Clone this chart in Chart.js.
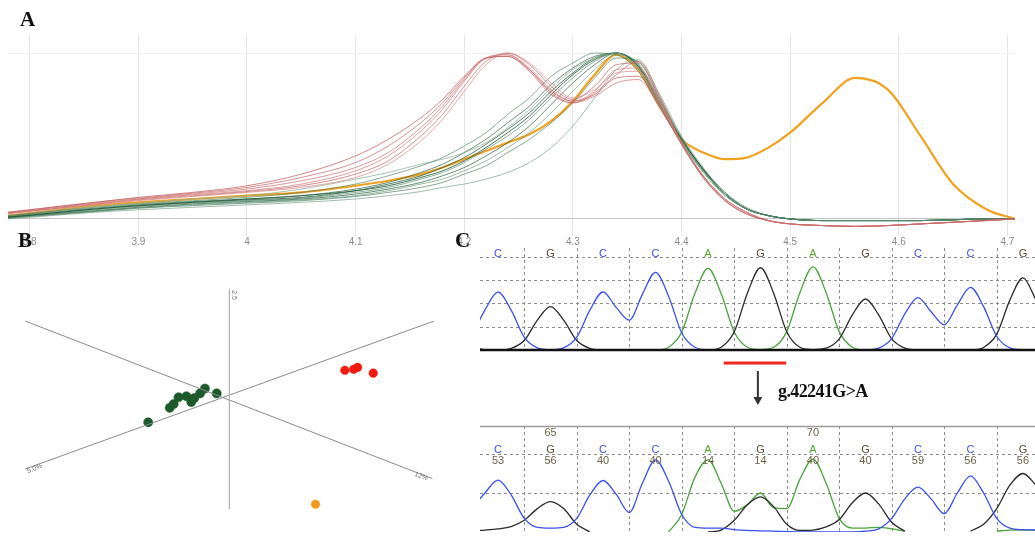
<!DOCTYPE html>
<html><head><meta charset="utf-8">
<script src="https://cdn.jsdelivr.net/npm/chart.js@4.4.1/dist/chart.umd.min.js"></script>
<style>
html,body{margin:0;padding:0;background:#fff;}
#wrap{position:relative;width:1035px;height:536px;overflow:hidden;background:#fff;}
canvas{position:absolute;}
.lbl{position:absolute;font-family:"Liberation Serif","Times New Roman",serif;font-weight:bold;color:#111;line-height:1;white-space:nowrap;}
</style></head><body>
<div id="wrap">
<canvas id="cA" width="1035" height="250" style="left:0;top:0"></canvas>
<canvas id="cB" width="470" height="281" style="left:0;top:255px"></canvas>
<canvas id="cC1" width="565" height="180" style="left:470px;top:240px"></canvas>
<canvas id="cC2" width="565" height="116" style="left:470px;top:420px"></canvas>
<div class="lbl" style="left:20px;top:9px;font-size:21px">A</div>
<div class="lbl" style="left:18px;top:230px;font-size:21px">B</div>
<div class="lbl" style="left:455px;top:230px;font-size:21px">C</div>
<div class="lbl" style="left:778px;top:382px;font-size:18px;letter-spacing:-0.6px">g.42241G&gt;A</div>
</div>
<script>
// ---------------- Panel A: normalized melting curves ----------------
const meltX = [3.78,3.82,3.86,3.9,3.95,4.0,4.05,4.1,4.13,4.16,4.18,4.2,4.22,4.24,4.26,4.28,4.3,4.32,4.34,4.36,4.38,4.4,4.42,4.44,4.46,4.48,4.5,4.53,4.56,4.59,4.62,4.65,4.68,4.707];
const xTickVals = [3.8,3.9,4.0,4.1,4.2,4.3,4.4,4.5,4.6,4.7];
const xTickLabels = ['3.8','3.9','4','4.1','4.2','4.3','4.4','4.5','4.6','4.7'];

const red1 = [0.04,0.07,0.10,0.13,0.16,0.20,0.27,0.38,0.48,0.61,0.72,0.86,0.97,0.98,0.90,0.77,0.71,0.75,0.85,0.86,0.68,0.45,0.25,0.11,0.03,-0.01,-0.03,-0.04,-0.045,-0.04,-0.03,-0.02,-0.01,0];
const red2 = [0.035,0.065,0.09,0.12,0.145,0.17,0.21,0.29,0.38,0.53,0.66,0.83,0.97,0.99,0.91,0.78,0.71,0.77,0.90,0.91,0.71,0.46,0.26,0.12,0.04,-0.01,-0.03,-0.04,-0.045,-0.04,-0.03,-0.02,-0.01,0];
const red3 = [0.035,0.06,0.09,0.115,0.14,0.165,0.20,0.27,0.35,0.50,0.63,0.80,0.95,1.0,0.93,0.80,0.72,0.80,0.93,0.94,0.72,0.46,0.26,0.12,0.04,-0.01,-0.03,-0.04,-0.045,-0.04,-0.03,-0.02,-0.01,0];
const red4 = [0.03,0.06,0.085,0.11,0.135,0.16,0.19,0.25,0.33,0.47,0.60,0.77,0.93,1.0,0.94,0.82,0.73,0.78,0.88,0.89,0.70,0.45,0.25,0.11,0.03,-0.01,-0.03,-0.04,-0.045,-0.04,-0.03,-0.02,-0.01,0];
const red5 = [0.035,0.065,0.095,0.12,0.15,0.18,0.23,0.31,0.40,0.55,0.68,0.84,0.97,0.99,0.90,0.76,0.70,0.74,0.82,0.84,0.67,0.45,0.25,0.11,0.03,-0.01,-0.03,-0.04,-0.045,-0.04,-0.03,-0.02,-0.01,0];
const red6 = [0.04,0.07,0.10,0.125,0.155,0.19,0.25,0.34,0.44,0.58,0.70,0.85,0.97,0.98,0.89,0.75,0.70,0.76,0.87,0.95,0.74,0.46,0.26,0.12,0.04,-0.01,-0.03,-0.04,-0.045,-0.04,-0.03,-0.02,-0.01,0];

const green1 = [0.02,0.045,0.07,0.09,0.11,0.13,0.16,0.21,0.26,0.32,0.37,0.44,0.52,0.63,0.73,0.86,0.94,1.0,0.99,0.89,0.67,0.46,0.28,0.14,0.06,0.02,0.0,-0.01,-0.01,-0.01,-0.01,-0.005,0,0];
const green2 = [0.02,0.05,0.075,0.095,0.12,0.14,0.18,0.24,0.28,0.33,0.36,0.40,0.46,0.55,0.66,0.79,0.90,0.97,1.0,0.91,0.69,0.47,0.29,0.15,0.06,0.02,0.0,-0.01,-0.01,-0.01,-0.01,-0.005,0,0];
const green3 = [0.015,0.04,0.065,0.085,0.105,0.12,0.14,0.18,0.22,0.28,0.33,0.40,0.48,0.58,0.68,0.81,0.91,0.98,1.0,0.91,0.69,0.47,0.29,0.15,0.06,0.02,0.0,-0.01,-0.01,-0.01,-0.01,-0.005,0,0];
const green4 = [0.01,0.035,0.06,0.08,0.10,0.115,0.13,0.17,0.21,0.26,0.31,0.37,0.45,0.54,0.64,0.77,0.88,0.97,1.0,0.92,0.70,0.48,0.30,0.15,0.06,0.02,0.0,-0.01,-0.01,-0.01,-0.01,-0.005,0,0];
const green5 = [0.01,0.03,0.055,0.075,0.095,0.11,0.125,0.16,0.19,0.24,0.28,0.34,0.42,0.50,0.60,0.73,0.85,0.95,1.0,0.93,0.70,0.48,0.29,0.15,0.06,0.02,0.0,-0.01,-0.01,-0.01,-0.01,-0.005,0,0];
const green6 = [0.01,0.03,0.05,0.07,0.09,0.105,0.12,0.15,0.18,0.22,0.26,0.31,0.38,0.46,0.56,0.69,0.82,0.93,1.0,0.93,0.71,0.48,0.30,0.15,0.06,0.02,0.0,-0.01,-0.01,-0.01,-0.01,-0.005,0,0];
const green7 = [0.005,0.025,0.045,0.065,0.085,0.10,0.115,0.14,0.17,0.21,0.24,0.29,0.35,0.43,0.52,0.64,0.77,0.90,0.99,0.94,0.72,0.49,0.30,0.15,0.06,0.02,0.0,-0.01,-0.01,-0.01,-0.01,-0.005,0,0];
const green8 = [0.005,0.025,0.045,0.065,0.08,0.095,0.11,0.135,0.16,0.19,0.22,0.27,0.32,0.40,0.48,0.58,0.70,0.85,0.97,0.95,0.73,0.49,0.30,0.16,0.06,0.02,0.0,-0.01,-0.01,-0.01,-0.01,-0.005,0,0];
const green9 = [0.0,0.02,0.04,0.055,0.07,0.085,0.10,0.12,0.14,0.165,0.19,0.21,0.24,0.28,0.34,0.43,0.56,0.73,0.90,0.96,0.75,0.50,0.31,0.16,0.07,0.02,0.0,-0.01,-0.01,-0.01,-0.01,-0.005,0,0];
const green10 = [0.01,0.035,0.06,0.08,0.10,0.12,0.14,0.17,0.20,0.25,0.29,0.35,0.43,0.52,0.62,0.75,0.87,0.96,1.0,0.92,0.69,0.47,0.29,0.15,0.06,0.02,0.0,-0.01,-0.01,-0.01,-0.01,-0.005,0,0];

const orange1 = [0.02,0.05,0.08,0.10,0.12,0.14,0.16,0.20,0.23,0.27,0.31,0.36,0.41,0.46,0.51,0.59,0.71,0.87,0.99,0.90,0.68,0.48,0.40,0.36,0.37,0.43,0.52,0.70,0.85,0.78,0.50,0.21,0.06,0.0];

const redSeries = [red1,red2,red3,red4,red5,red6];
const redColors = ['rgba(200,95,95,0.75)','rgba(215,130,130,0.75)','rgba(195,100,100,0.7)','rgba(220,140,140,0.75)','rgba(205,110,110,0.7)','rgba(190,90,90,0.65)'];
const greenSeries = [green1,green2,green3,green4,green5,green6,green7,green8,green9,green10];
const greenColors = ['rgba(60,120,85,0.6)','rgba(140,175,150,0.75)','rgba(40,100,65,0.7)','rgba(30,90,55,0.75)','rgba(70,125,90,0.6)','rgba(35,95,60,0.7)','rgba(100,150,115,0.65)','rgba(50,110,75,0.6)','rgba(120,160,135,0.7)','rgba(25,85,50,0.8)'];

function meltDS(vals, color, w){
  return {data: meltX.map((x,i)=>({x:x, y:vals[i]})), borderColor: color, borderWidth: w,
          pointRadius: 0, fill: false, cubicInterpolationMode: 'monotone'};
}
const dsA = [];
redSeries.forEach((s,i)=>dsA.push(meltDS(s, redColors[i], 1)));
greenSeries.forEach((s,i)=>dsA.push(meltDS(s, greenColors[i], 1)));
dsA.push(meltDS(orange1, '#f2a11f', 2.2));

Chart.defaults.font.family = '"Liberation Sans", Arial, sans-serif';

new Chart(document.getElementById('cA'), {
  type: 'line',
  data: {datasets: dsA},
  options: {
    responsive: false, animation: false, devicePixelRatio: 1,
    layout: {padding: {left: 8, right: 20, top: 35, bottom: 2}},
    plugins: {legend: {display: false}, tooltip: {enabled: false}},
    scales: {
      x: {type: 'linear', min: 3.78, max: 4.707,
          afterBuildTicks: s => { s.ticks = xTickVals.map(v=>({value:v})); },
          ticks: {callback: (v,i)=>xTickLabels[i], color: '#8a8a8a', font: {size: 10}, padding: 0, autoSkip: false, maxRotation: 0},
          grid: {color: '#e4e4e4', drawTicks: false}, border: {display: false}},
      y: {type: 'linear', min: -0.103, max: 1.109,
          afterBuildTicks: s => { s.ticks = [{value:0},{value:1}]; },
          ticks: {display: false},
          grid: {drawTicks: false, color: c => (c.tick && c.tick.value === 0) ? '#c4c4c4' : '#f0f0f0'},
          border: {display: false}}
    }
  }
});

// ---------------- Panel B: 3D cluster plot (projected) ----------------
const bAxisV  = [[0, 1.14], [0, -1.14]];
const bAxisD1 = [[-2.086, 0.81], [2.074, -0.824]];
const bAxisD2 = [[-2.086, -0.724], [2.09, 0.81]];
const bGreen  = [[-0.83,-0.24],[-0.61,-0.09],[-0.57,-0.05],[-0.52,0.02],[-0.44,0.03],[-0.39,-0.03],[-0.36,0.01],[-0.30,0.06],[-0.25,0.11],[-0.13,0.06]];
const bRed    = [[1.18,0.30],[1.27,0.31],[1.31,0.33],[1.47,0.27]];
const bOrange = [[0.88,-1.09]];
const bLabels = ['2.5','5.0%','12%'];
const bLabelPos = [[0.05,1.08],[-1.99,-0.72],[1.96,-0.80]];
const bLabelRot = [90,-22,22];

const toXY = arr => arr.map(p=>({x:p[0], y:p[1]}));
const bLabelPlugin = {
  id: 'blabels',
  afterDatasetsDraw(chart){
    const {ctx, scales:{x,y}} = chart;
    ctx.save();
    ctx.fillStyle = '#777'; ctx.font = '7px "Liberation Sans"';
    ctx.textAlign = 'center'; ctx.textBaseline = 'middle';
    bLabels.forEach((t,i)=>{
      ctx.save();
      ctx.translate(x.getPixelForValue(bLabelPos[i][0]), y.getPixelForValue(bLabelPos[i][1]));
      ctx.rotate(bLabelRot[i]*Math.PI/180);
      ctx.fillText(t,0,0);
      ctx.restore();
    });
    ctx.restore();
  }
};
new Chart(document.getElementById('cB'), {
  type: 'scatter',
  data: {datasets: [
    {data: toXY(bAxisV), showLine: true, borderColor: '#b0b0b0', borderWidth: 1, pointRadius: 0},
    {data: toXY(bAxisD1), showLine: true, borderColor: '#8a8a8a', borderWidth: 1, pointRadius: 0},
    {data: toXY(bAxisD2), showLine: true, borderColor: '#8a8a8a', borderWidth: 1, pointRadius: 0},
    {data: toXY(bGreen), pointRadius: 4.6, backgroundColor: '#1c5a2c', borderColor: '#1c5a2c', borderWidth: 0.5},
    {data: toXY(bRed), pointRadius: 4.3, backgroundColor: '#f01a10', borderColor: '#f01a10', borderWidth: 0.5},
    {data: toXY(bOrange), pointRadius: 4.3, backgroundColor: '#f39a1c', borderColor: '#f39a1c', borderWidth: 0.5}
  ]},
  options: {
    responsive: false, animation: false, devicePixelRatio: 1,
    layout: {padding: 0},
    plugins: {legend: {display: false}, tooltip: {enabled: false}},
    scales: {
      x: {type: 'linear', display: false, min: -2.293, max: 2.407},
      y: {type: 'linear', display: false, min: -1.367, max: 1.443}
    }
  },
  plugins: [bLabelPlugin]
});

// ---------------- Panel C: sequencing chromatograms ----------------
const chromX = [-0.5,-0.25,0,0.25,0.5,0.75,1,1.25,1.5,1.75,2,2.25,2.5,2.75,3,3.25,3.5,3.75,4,4.25,4.5,4.75,5,5.25,5.5,5.75,6,6.25,6.5,6.75,7,7.25,7.5,7.75,8,8.25,8.5,8.75,9,9.25,9.5,9.75,10,10.25];
const baseLetters = ['C','G','C','C','A','G','A','G','C','C','G'];
const qualNums = ['53','56','40','40','14','14','40','40','59','56','56'];
const posNums  = ['','65','','','','','70','','','',''];
const gridX = [0.5,1.5,2.5,3.5,4.5,5.5,6.5,7.5,8.5,9.5];

const topC = [0.6,1.71,2.48,1.71,0.55,0.09, 0.01,0.09,0.55,1.71, 2.49,1.83,1.28,2.39, 3.33,2.30,0.73,0.12, 0.01,0,0,0, 0,0,0,0, 0,0,0,0, 0,0.08,0.49,1.55, 2.25,1.64,1.08,1.94, 2.69,1.86,0.59,0.09, 0.01,0];
const topG = [0.12,0.02,0,0.07,0.41,1.28, 1.86,1.28,0.41,0.07, 0,0,0,0, 0,0,0,0, 0,0.12,0.78,2.44, 3.53,2.44,0.78,0.12, 0.02,0.08,0.48,1.51, 2.19,1.51,0.48,0.08, 0,0,0,0, 0,0.11,0.68,2.14, 3.1,2.14];
const topA = [0,0,0,0,0,0, 0,0,0,0, 0,0,0,0, 0,0.12,0.77,2.42, 3.5,2.42,0.77,0.12, 0.02,0.12,0.79,2.46, 3.57,2.46,0.79,0.12, 0,0,0,0, 0,0,0,0, 0,0,0,0, 0,0];

const botC = [0.6,1.0,1.33,0.95,0.35,0.12, 0.1,0.12,0.35,0.95, 1.32,0.97,0.5,1.25, 1.85,1.3,0.45,0.12, 0.1,0.1,0.06,0.04, 0.03,0.02,0.01,0, 0,0,0,0, 0.02,0.08,0.35,0.85, 1.15,0.85,0.47,1.0, 1.44,1.0,0.35,0.1, 0.06,0.05];
const botG = [0.03,0.05,0.08,0.14,0.3,0.6, 0.78,0.6,0.2,0, null,null,null,null, null,null,null,null, 0,0.05,0.3,0.7, 0.9,0.65,0.2,0.04, 0.05,0.13,0.32,0.75, 1.0,0.72,0.25,0.02, null,null,null,null, 0.02,0.2,0.6,1.2, 1.5,1.2];
const botA = [null,null,null,null,null,null, null,null,null,null, null,null,null,null, null,0,0.45,1.4, 1.85,1.25,0.53,0.7, 1.0,0.62,0.6,1.35, 1.87,1.25,0.35,0.1, 0.1,0.12,0.08,0.02, null,null,null,null, null,null,0.02,0.05, 0.05,0.05];

const markBar = [4.3, 5.49];
const markBarY = -0.56;
const arrowX = 4.95;
const arrowY = [-0.9, -2.36];

const letterColor = {C:'#3d4fe6', G:'#5a4a2e', A:'#52a82f', T:'#d22'};
const traceColor = {C:'#3b4ff0', G:'#2a2a2a', A:'#49a43a'};

function traceDS(vals, color){
  return {data: chromX.map((x,i)=>({x:x, y:vals[i]})), borderColor: color, borderWidth: 1.3,
          pointRadius: 0, fill: false, cubicInterpolationMode: 'monotone', spanGaps: false};
}

function chromPlugin(cfg){
  return {
    id: cfg.id,
    beforeDatasetsDraw(chart){
      const {ctx, chartArea:a, scales:{x,y}} = chart;
      ctx.save();
      ctx.strokeStyle = '#8c8c8c'; ctx.lineWidth = 1; ctx.setLineDash([3,3]);
      gridX.forEach(v=>{ const px = Math.round(x.getPixelForValue(v))+0.5;
        ctx.beginPath(); ctx.moveTo(px, a.top); ctx.lineTo(px, a.bottom); ctx.stroke(); });
      cfg.hgrid.forEach(v=>{ const py = Math.round(y.getPixelForValue(v))+0.5;
        ctx.beginPath(); ctx.moveTo(a.left, py); ctx.lineTo(a.right, py); ctx.stroke(); });
      ctx.setLineDash([]);
      if (cfg.topLine){ ctx.strokeStyle = '#9a9a9a'; ctx.lineWidth = 1.5;
        ctx.beginPath(); ctx.moveTo(a.left, a.top+0.5); ctx.lineTo(a.right, a.top+0.5); ctx.stroke(); }
      ctx.restore();
    },
    afterDatasetsDraw(chart){
      const {ctx, chartArea:a, scales:{x,y}} = chart;
      ctx.save();
      if (cfg.baseline){
        const py = y.getPixelForValue(0);
        ctx.strokeStyle = '#111'; ctx.lineWidth = 2.4;
        ctx.beginPath(); ctx.moveTo(a.left, py); ctx.lineTo(a.right, py); ctx.stroke();
      }
      ctx.textAlign = 'center'; ctx.textBaseline = 'middle';
      ctx.font = '11px "Liberation Sans"';
      baseLetters.forEach((b,i)=>{
        ctx.fillStyle = letterColor[b];
        ctx.fillText(b, x.getPixelForValue(i), y.getPixelForValue(cfg.letterY));
      });
      if (cfg.qual){
        ctx.fillStyle = '#6f6247';
        qualNums.forEach((t,i)=>ctx.fillText(t, x.getPixelForValue(i), y.getPixelForValue(cfg.qualY)));
        posNums.forEach((t,i)=>{ if (t) ctx.fillText(t, x.getPixelForValue(i), y.getPixelForValue(cfg.posY)); });
      }
      if (cfg.mark){
        const x1 = x.getPixelForValue(markBar[0]), x2 = x.getPixelForValue(markBar[1]);
        const yb = y.getPixelForValue(markBarY);
        ctx.fillStyle = '#ee2a1e'; ctx.fillRect(x1, yb-1.5, x2-x1, 3);
        const ax = x.getPixelForValue(arrowX), y1 = y.getPixelForValue(arrowY[0]), y2 = y.getPixelForValue(arrowY[1]);
        ctx.strokeStyle = '#333'; ctx.lineWidth = 2;
        ctx.beginPath(); ctx.moveTo(ax, y1); ctx.lineTo(ax, y2-6); ctx.stroke();
        ctx.fillStyle = '#333';
        ctx.beginPath(); ctx.moveTo(ax-4.5, y2-8); ctx.lineTo(ax+4.5, y2-8); ctx.lineTo(ax, y2); ctx.closePath(); ctx.fill();
      }
      ctx.restore();
    }
  };
}

const chromScalesX = {type: 'linear', display: false, min: -0.343, max: 10.229};

new Chart(document.getElementById('cC1'), {
  type: 'line',
  data: {datasets: [traceDS(topC, traceColor.C), traceDS(topG, traceColor.G), traceDS(topA, traceColor.A)]},
  options: {
    responsive: false, animation: false, devicePixelRatio: 1,
    layout: {padding: {left: 10, right: 0, top: 8, bottom: 70}},
    plugins: {legend: {display: false}, tooltip: {enabled: false}},
    scales: {x: chromScalesX, y: {type: 'linear', display: false, min: 0, max: 4.378}}
  },
  plugins: [chromPlugin({id:'chromTop', hgrid:[1,2,3,4], baseline:true, letterY:4.13, mark:true})]
});

new Chart(document.getElementById('cC2'), {
  type: 'line',
  data: {datasets: [traceDS(botC, traceColor.C), traceDS(botG, traceColor.G), traceDS(botA, traceColor.A)]},
  options: {
    responsive: false, animation: false, devicePixelRatio: 1,
    layout: {padding: {left: 10, right: 0, top: 6, bottom: 4}},
    plugins: {legend: {display: false}, tooltip: {enabled: false}},
    scales: {x: chromScalesX, y: {type: 'linear', display: false, min: 0, max: 2.718}}
  },
  plugins: [chromPlugin({id:'chromBot', hgrid:[1,2], topLine:true, letterY:2.1, qual:true, qualY:1.81, posY:2.53})]
});
</script>
</body></html>
